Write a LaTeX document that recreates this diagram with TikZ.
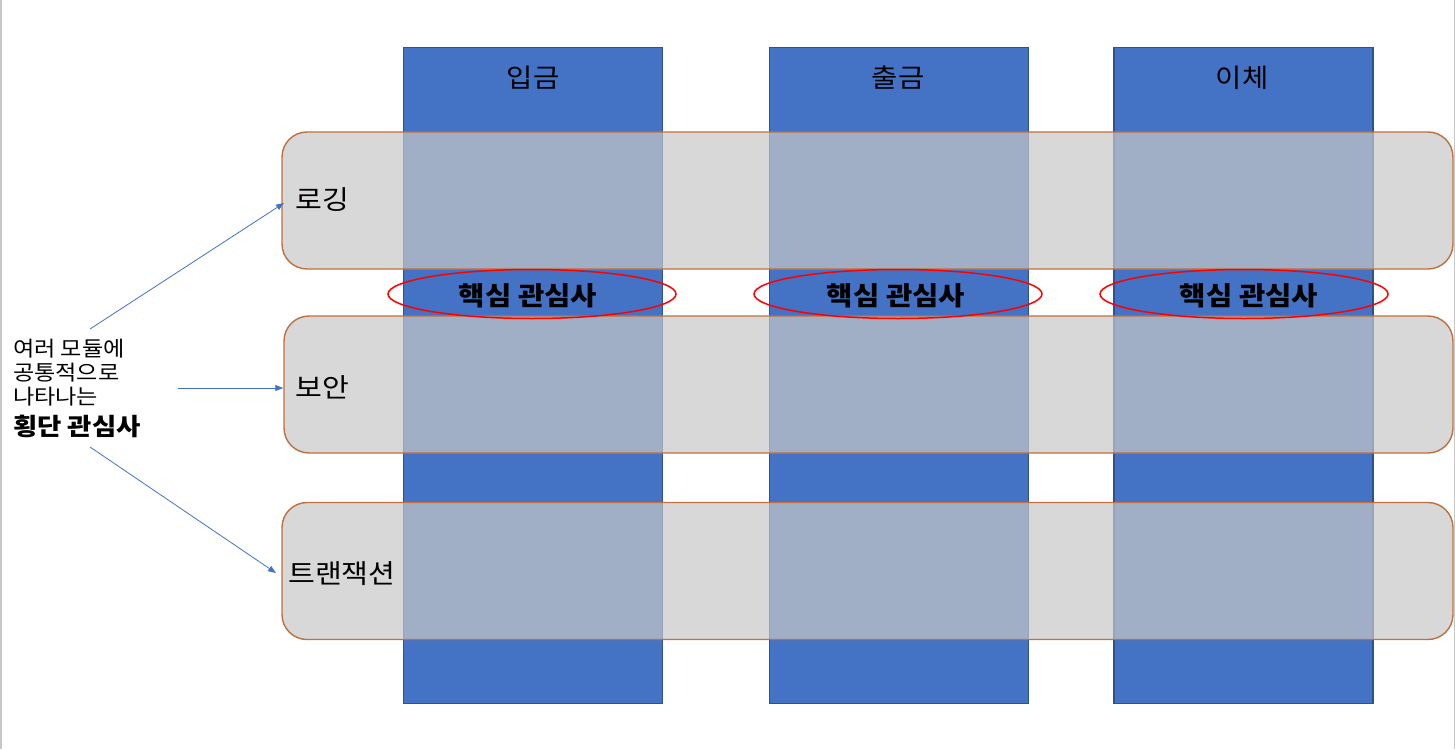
\documentclass[tikz,border=0pt]{standalone}
\usepackage{fontspec}
\setmainfont[FakeStretch=1.1]{Noto Sans CJK KR}
\usetikzlibrary{shapes.geometric,arrows.meta}
\definecolor{colblue}{RGB}{68,114,196}
\definecolor{colborder}{RGB}{47,82,143}
\definecolor{bandfill}{RGB}{200,200,200}
\definecolor{bandline}{RGB}{190,112,62}
\definecolor{arrblue}{RGB}{68,114,196}
\definecolor{slideedge}{RGB}{200,200,200}
\begin{document}
\begin{tikzpicture}[x=1pt,y=-1pt,
  colbox/.style={draw=colborder,fill=colblue,line width=1.8pt,minimum width=259pt,minimum height=656pt,inner sep=0pt},
  band/.style={draw=bandline,fill=bandfill,fill opacity=0.7,draw opacity=1,line width=1.4pt,rounded corners=25pt,minimum width=1171pt,minimum height=137pt,inner sep=0pt},
  coreell/.style={draw=red,line width=1.5pt,ellipse,minimum width=288pt,minimum height=49pt,inner sep=0pt,font=\fontsize{26}{30}\selectfont\bfseries},
  coltitle/.style={font=\fontsize{26}{30}\selectfont,inner sep=0pt},
  bandtitle/.style={font=\fontsize{26.5}{30}\selectfont,inner sep=0pt,anchor=west},
  lefttext/.style={font=\fontsize{21}{24}\selectfont,inner sep=0pt,anchor=west},
  arr/.style={draw=arrblue,line width=0.8pt,-{Triangle[length=8pt,width=6pt]}}
]
\useasboundingbox (0,0) rectangle (1455,749);
\fill[white] (0,0) rectangle (1455,749);
\draw[slideedge,line width=1.5pt] (0.75,0) -- (0.75,749);
\draw[slideedge,line width=1pt] (1454.5,0) -- (1454.5,749);
% columns
\node[colbox] (c1) at (533,375.5) {};
\node[colbox] (c2) at (899,375.5) {};
\node[colbox] (c3) at (1243.5,375.5) {};
\node[coltitle] (t1) at (533,78) {입금};
\node[coltitle] (t2) at (898,78) {출금};
\node[coltitle] (t3) at (1242,78) {이체};
% bands
\node[band] (log) at (867.5,200.5) {};
\node[band,minimum width=1169pt] (sec) at (868.5,384.5) {};
\node[band] (trx) at (867.5,571) {};
\node[bandtitle] (logt) at (295,200) {로깅};
\node[bandtitle] (sect) at (295,387) {보안};
\node[bandtitle] (trxt) at (288,574) {트랜잭션};
% core concerns
\node[coreell] (e1) at (532,294) {};
\node[coreell] (e2) at (898,294) {};
\node[coreell] (e3) at (1244,294) {};
\node[font=\fontsize{26}{30}\selectfont\bfseries,inner sep=0pt] (k1) at (528,296) {핵심 관심사};
\node[font=\fontsize{26}{30}\selectfont\bfseries,inner sep=0pt] (k2) at (896,296) {핵심 관심사};
\node[font=\fontsize{26}{30}\selectfont\bfseries,inner sep=0pt] (k3) at (1249,296) {핵심 관심사};
% left text
\node[lefttext] (l1) at (13,349) {여러 모듈에};
\node[lefttext] (l2) at (13,373) {공통적으로};
\node[lefttext] (l3) at (13,397) {나타나는};
\node[lefttext,font=\fontsize{24}{28}\selectfont\bfseries] (l4) at (13,426) {횡단 관심사};
\coordinate (a1) at (90,329);
\coordinate (a2) at (178,388);
\coordinate (a3) at (90,447);
\coordinate (b1) at (284,203);
\coordinate (b3) at (276,573);
\draw[arr] (a1) -- (b1);
\draw[arr] (a2) -- (sec.west |- a2);
\draw[arr] (a3) -- (b3);
\end{tikzpicture}
\end{document}
